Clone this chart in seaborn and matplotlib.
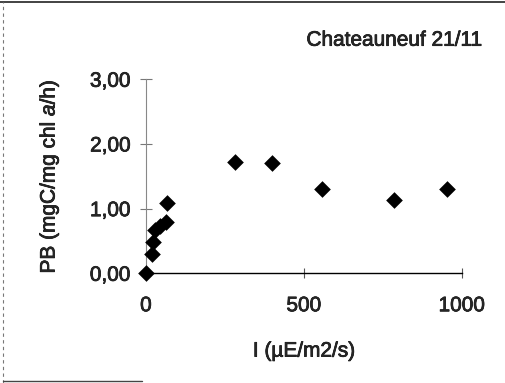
import matplotlib
matplotlib.use("Agg")
import matplotlib.pyplot as plt
import matplotlib.patheffects as pe
import seaborn as sns
import pandas as pd
from matplotlib.ticker import FuncFormatter
from matplotlib.lines import Line2D

# data
irradiance = [0, 19, 22, 28, 45, 62, 67, 281, 399, 557, 785, 953]
pb = [0.0, 0.30, 0.48, 0.67, 0.73, 0.80, 1.09, 1.72, 1.70, 1.31, 1.14, 1.30]
x_ticks = [0, 500, 1000]
y_ticks = [0, 1, 2, 3]
title = "Chateauneuf 21/11"

df = pd.DataFrame({"I": irradiance, "PB": pb})

sns.set_style("white")
plt.rcParams["font.family"] = ["Liberation Sans", "DejaVu Sans"]
plt.rcParams["mathtext.fontset"] = "custom"
plt.rcParams["mathtext.it"] = "Liberation Sans:italic"
plt.rcParams["mathtext.rm"] = "Liberation Sans"

# slightly heavier strokes, like the scanned print
thick = [pe.withStroke(linewidth=0.5, foreground="black")]

fig = plt.figure(figsize=(5.06, 3.83), dpi=100)
ax = fig.add_axes([0.2885, 0.2864, 0.6245, 0.5066])

sns.scatterplot(data=df, x="I", y="PB", ax=ax, marker="D", color="black",
                s=72, linewidth=0, clip_on=False, zorder=5)

ax.set_xlim(0, 1000)
ax.set_ylim(0, 3)
ax.set_xticks(x_ticks)
ax.set_yticks(y_ticks)
ax.yaxis.set_major_formatter(FuncFormatter(lambda v, p: f"{v:.2f}".replace(".", ",")))

ax.spines["top"].set_visible(False)
ax.spines["right"].set_visible(False)
ax.spines["left"].set_color("#888888")
ax.spines["left"].set_linestyle((0, (2, 1)))
ax.spines["left"].set_linewidth(0.8)
ax.spines["bottom"].set_color("black")
ax.spines["bottom"].set_linewidth(1.0)

ax.tick_params(axis="y", direction="inout", length=8, width=0.8, color="#777777",
               labelsize=15, pad=7, left=True)
ax.tick_params(axis="x", direction="inout", length=7, width=0.8, color="#555555",
               labelsize=15, pad=13, bottom=True)

ax.set_xlabel("I (µE/m2/s)", fontsize=15, labelpad=19, path_effects=thick)
ax.set_ylabel(r"PB (mgC/mg chl $\mathit{a}$/h)", fontsize=15, labelpad=21,
              path_effects=thick)
for lab in ax.get_xticklabels() + ax.get_yticklabels():
    lab.set_path_effects(thick)

fig.text(0.78, 0.895, title, fontsize=15, ha="center", va="center", path_effects=thick)

# remains of the scanned frame around the chart
fig.add_artist(Line2D([0, 1], [0.995, 0.995], transform=fig.transFigure,
                      color="#222222", linewidth=1.2))
fig.add_artist(Line2D([0.006, 0.006], [0, 0.995], transform=fig.transFigure,
                      color="#777777", linewidth=0.8, linestyle=(0, (3, 3))))
fig.add_artist(Line2D([0.006, 0.28], [0.005, 0.005], transform=fig.transFigure,
                      color="#444444", linewidth=1.0))

fig.savefig("out.png", dpi=100)
